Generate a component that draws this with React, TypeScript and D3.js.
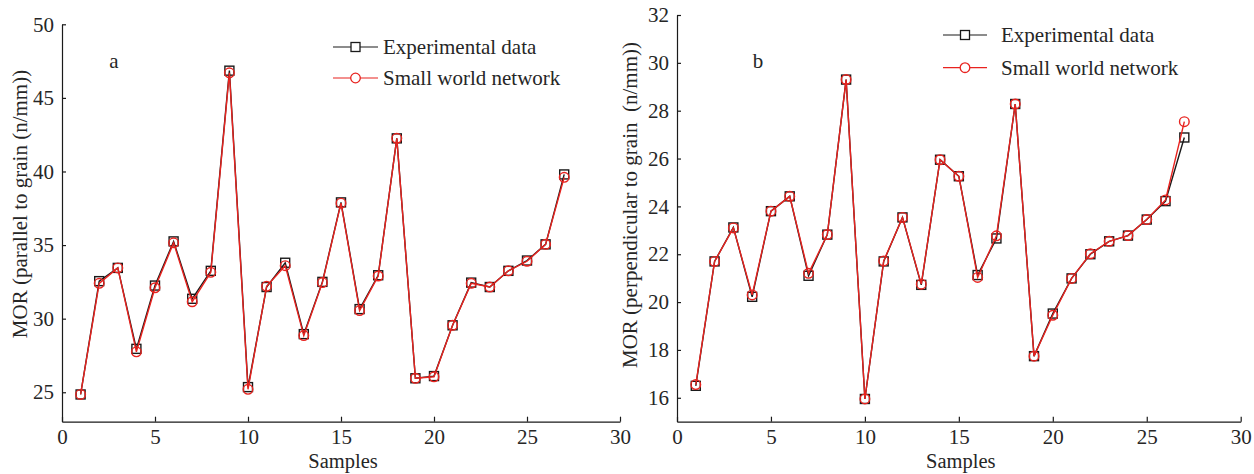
import React, { useRef, useEffect } from 'react';
import * as d3 from 'd3';

// Samples 1..27
const samples = d3.range(1, 28);

// Panel a: MOR parallel to grain
const expParallel = [24.85, 32.55, 33.45, 27.95, 32.25, 35.25, 31.35, 33.25, 46.85, 25.35, 32.15, 33.8, 28.95, 32.5, 37.9, 30.65, 32.95, 42.25, 25.95, 26.1, 29.55, 32.45, 32.15, 33.25, 33.95, 35.05, 39.8];
const swnParallel = [24.85, 32.4, 33.45, 27.75, 32.1, 35.15, 31.15, 33.15, 46.7, 25.2, 32.2, 33.6, 28.85, 32.45, 37.85, 30.55, 32.9, 42.25, 25.95, 26.05, 29.55, 32.4, 32.15, 33.25, 33.9, 35.05, 39.6];

// Panel b: MOR perpendicular to grain
const expPerp = [16.5, 21.7, 23.12, 20.22, 23.8, 24.42, 21.1, 22.82, 29.3, 15.95, 21.7, 23.54, 20.72, 25.95, 25.26, 21.13, 22.66, 28.28, 17.74, 19.52, 20.99, 22.0, 22.54, 22.78, 23.45, 24.22, 26.88];
const swnPerp = [16.55, 21.7, 23.1, 20.3, 23.8, 24.42, 21.2, 22.82, 29.3, 15.95, 21.72, 23.54, 20.75, 25.95, 25.26, 21.03, 22.77, 28.28, 17.74, 19.45, 20.99, 22.02, 22.54, 22.78, 23.45, 24.27, 27.54];

const xTicks = [0, 5, 10, 15, 20, 25, 30];
const yTicksA = [25, 30, 35, 40, 45, 50];
const yTicksB = [16, 18, 20, 22, 24, 26, 28, 30, 32];

const seriesNames = ['Experimental data', 'Small world network'];

const FONT = '"Liberation Serif", "Times New Roman", serif';
const TEXT = '#262626';
const BLACK = '#1a1a1a';
const RED = '#e8231f';

const drawPanel = (svg, opts) => {
  const { left, right, top, bottom, yDomain, yTicks, exp, swn, yTitle, letter, letterPos, legend, yTitleX, yTitleY } = opts;

  const x = d3.scaleLinear().domain([0, 30]).range([left, right]);
  const y = d3.scaleLinear().domain(yDomain).range([bottom, top]);

  const g = svg.append('g');

  // Axes (left + bottom only, ticks pointing inward)
  const xAxis = g.append('g')
    .attr('transform', `translate(0, ${bottom})`)
    .call(d3.axisBottom(x).tickValues(xTicks).tickSizeInner(-5).tickSizeOuter(0).tickPadding(7));
  const yAxis = g.append('g')
    .attr('transform', `translate(${left}, 0)`)
    .call(d3.axisLeft(y).tickValues(yTicks).tickSizeInner(-4).tickSizeOuter(0).tickPadding(8));

  [xAxis, yAxis].forEach(ax => {
    ax.select('.domain').attr('stroke', BLACK).attr('stroke-width', 1.2);
    ax.selectAll('line').attr('stroke', BLACK).attr('stroke-width', 1.2);
    ax.selectAll('text')
      .attr('fill', TEXT)
      .attr('font-family', FONT)
      .attr('font-size', 21);
  });

  // Axis titles
  g.append('text')
    .attr('x', (left + right) / 2 + 2)
    .attr('y', 468)
    .attr('text-anchor', 'middle')
    .attr('fill', TEXT)
    .attr('font-family', FONT)
    .attr('font-size', 20.5)
    .text('Samples');

  g.append('text')
    .attr('transform', `translate(${yTitleX}, ${yTitleY}) rotate(-90)`)
    .attr('text-anchor', 'middle')
    .attr('fill', TEXT)
    .attr('font-family', FONT)
    .attr('font-size', 21)
    .attr('xml:space', 'preserve')
    .style('white-space', 'pre')
    .text(yTitle);

  // Panel letter
  g.append('text')
    .attr('x', letterPos[0])
    .attr('y', letterPos[1])
    .attr('text-anchor', 'middle')
    .attr('fill', TEXT)
    .attr('font-family', FONT)
    .attr('font-size', 21)
    .text(letter);

  const line = d3.line().x((d, i) => x(samples[i])).y(d => y(d));

  // Experimental data (black squares)
  g.append('path')
    .datum(exp)
    .attr('d', line)
    .attr('fill', 'none')
    .attr('stroke', BLACK)
    .attr('stroke-width', 1.4);
  g.selectAll('.sq')
    .data(exp)
    .enter()
    .append('rect')
    .attr('x', (d, i) => x(samples[i]) - 4.5)
    .attr('y', d => y(d) - 4.5)
    .attr('width', 9)
    .attr('height', 9)
    .attr('fill', 'none')
    .attr('stroke', BLACK)
    .attr('stroke-width', 1.4);

  // Small world network (red circles)
  g.append('path')
    .datum(swn)
    .attr('d', line)
    .attr('fill', 'none')
    .attr('stroke', RED)
    .attr('stroke-width', 1.4);
  g.selectAll('.ci')
    .data(swn)
    .enter()
    .append('circle')
    .attr('cx', (d, i) => x(samples[i]))
    .attr('cy', d => y(d))
    .attr('r', 4.8)
    .attr('fill', 'none')
    .attr('stroke', RED)
    .attr('stroke-width', 1.4);

  // Legend
  const [lx0, lx1, ly0, ly1, tx] = legend;
  const rows = [
    { name: seriesNames[0], color: BLACK, y: ly0, marker: 'square' },
    { name: seriesNames[1], color: RED, y: ly1, marker: 'circle' }
  ];
  rows.forEach(r => {
    g.append('line')
      .attr('x1', lx0).attr('x2', lx1)
      .attr('y1', r.y).attr('y2', r.y)
      .attr('stroke', r.color).attr('stroke-width', 1.2);
    const mx = (lx0 + lx1) / 2;
    if (r.marker === 'square') {
      g.append('rect')
        .attr('x', mx - 4.5).attr('y', r.y - 4.5)
        .attr('width', 9).attr('height', 9)
        .attr('fill', 'white').attr('stroke', r.color).attr('stroke-width', 1.3);
    } else {
      g.append('circle')
        .attr('cx', mx).attr('cy', r.y).attr('r', 4.8)
        .attr('fill', 'white').attr('stroke', r.color).attr('stroke-width', 1.3);
    }
    g.append('text')
      .attr('x', tx)
      .attr('y', r.y + 7)
      .attr('fill', TEXT)
      .attr('font-family', FONT)
      .attr('font-size', 21)
      .text(r.name);
  });
};

const App = () => {
  const svgRef = useRef(null);

  useEffect(() => {
    if (!svgRef.current) return;
    const svg = d3.select(svgRef.current);
    svg.selectAll('*').remove();

    drawPanel(svg, {
      left: 62, right: 620, top: 24.3, bottom: 421.7,
      yDomain: [23, 50], yTicks: yTicksA,
      exp: expParallel, swn: swnParallel,
      yTitle: 'MOR (parallel to grain (n/mm))',
      yTitleX: 27, yTitleY: 204,
      letter: 'a', letterPos: [114, 68],
      legend: [333, 378, 47, 78, 383]
    });

    drawPanel(svg, {
      left: 677, right: 1240.7, top: 15, bottom: 421.7,
      yDomain: [15, 32], yTicks: yTicksB,
      exp: expPerp, swn: swnPerp,
      yTitle: 'MOR (perpendicular to grain  (n/mm))',
      yTitleX: 637, yTitleY: 205,
      letter: 'b', letterPos: [758, 68],
      legend: [943, 987, 35, 67.7, 1001]
    });
  }, []);

  return (
    <svg
      ref={svgRef}
      width={1254}
      height={474}
      style={{ position: 'absolute', left: 0, top: 0, background: '#fff' }}
    />
  );
};

export default App;
